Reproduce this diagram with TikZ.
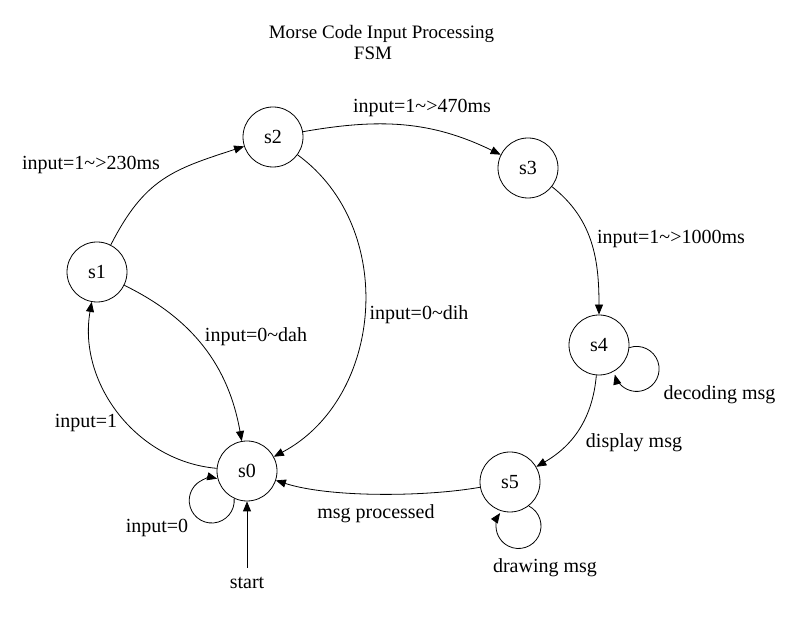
\documentclass[tikz,border=0pt]{standalone}
\usepackage{fontspec}
\setmainfont{Liberation Serif}
\usetikzlibrary{arrows.meta}
\begin{document}
\begin{tikzpicture}[x=1pt,y=1pt,
  state/.style={circle,draw,line width=0.8pt,minimum size=60pt,inner sep=0pt,font=\fontsize{20}{24}\selectfont},
  lbl/.style={anchor=base,inner sep=0pt,font=\fontsize{20}{24}\selectfont},
  ttl/.style={anchor=base,inner sep=0pt,font=\fontsize{19}{23}\selectfont},
  tr/.style={line width=0.8pt,-{Triangle[length=10pt,width=8pt]}}]
\useasboundingbox (0,0) rectangle (800,639);
% title
\node[ttl] (t1) at (381.5,600) {Morse Code Input Processing};
\node[ttl] (t2) at (373,579) {FSM};
% states
\node[state] (s0) at (247,168) {s0};
\node[state] (s1) at (97,367) {s1};
\node[state] (s2) at (273,502) {s2};
\node[state] (s3) at (528,471) {s3};
\node[state] (s4) at (599,294) {s4};
\node[state] (s5) at (510,157) {s5};
% transitions
\draw[tr] (s1) to[out=63,in=198,looseness=1.15] (s2);
\draw[tr] (s2) to[out=10,in=154] (s3);
\draw[tr] (s3) to[out=-38,in=90] (s4);
\draw[tr] (s4) to[out=-95,in=30] (s5);
\draw[tr] (s5) to[out=190,in=-18,looseness=0.7] (s0);
\draw[tr] (s2) to[out=-36,in=28,looseness=1.05] (s0);
\draw[tr] (s1) to[out=-26,in=100] (s0);
\draw[tr] (s0) to[out=175,in=-100] (s1);
% self loops
\draw[tr] (s0.245) arc[start angle=5,end angle=-284,radius=22.5];
\draw[tr] (s4.-5) arc[start angle=109,end angle=-165.5,radius=22.5];
\draw[tr] (s5.-52) arc[start angle=63,end angle=-215,radius=22.5];
% start
\coordinate (st) at (247,71);
\draw[tr] (st) -- (s0);
\node[lbl] (lstart) at (247,50) {start};
% labels
\node[lbl] (l12) at (91,469) {input=1\textasciitilde>230ms};
\node[lbl] (l23) at (422,526) {input=1\textasciitilde>470ms};
\node[lbl] (l34) at (671,395) {input=1\textasciitilde>1000ms};
\node[lbl] (l20) at (419,319) {input=0\textasciitilde dih};
\node[lbl] (l10) at (256,297) {input=0\textasciitilde dah};
\node[lbl] (l01) at (86,211) {input=1};
\node[lbl] (l00) at (157,106) {input=0};
\node[lbl] (l44) at (719.5,239) {decoding msg};
\node[lbl] (l45) at (634,191) {display msg};
\node[lbl] (l55) at (545,66) {drawing msg};
\node[lbl] (l50) at (376,120) {msg processed};
\end{tikzpicture}
\end{document}
